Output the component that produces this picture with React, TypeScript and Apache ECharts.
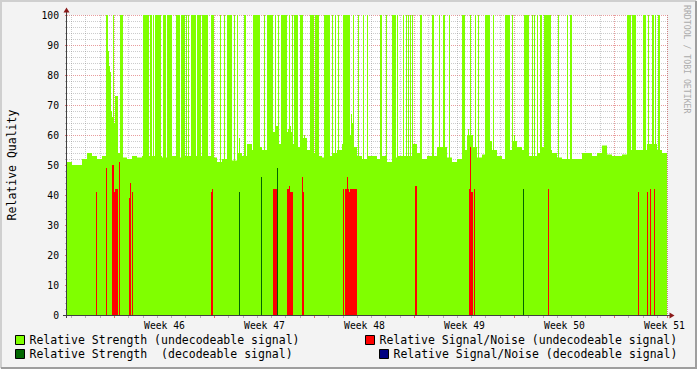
import React, { useEffect, useRef } from "react";
import * as echarts from "echarts";

// ---------- data (one sample per time step, 600 samples over ~6 weeks) ----------
const sampleCount = 600;
const weekLabels = ["Week 46", "Week 47", "Week 48", "Week 49", "Week 50", "Week 51"];
const weekLabelSamples = [97, 197, 297, 397, 497, 597];
const firstWeekStartSample = 47;
const samplesPerWeek = 100;

const NAME_STRENGTH_U = "Relative Strength (undecodeable signal)";
const NAME_SNR_U = "Relative Signal/Noise (undecodeable signal)";
const NAME_STRENGTH_D = "Relative Strength  (decodeable signal)";
const NAME_SNR_D = "Relative Signal/Noise (decodeable signal)";

// baseline strength, one value per block of 5 samples
const strengthBlockSize = 5;
const strengthBase = [
  51, 50, 50, 52, 54, 53, 52, 53, 54, 55,
  54, 52.5, 52, 53, 52.5, 53, 53, 53, 53, 52.5,
  53, 53, 52.5, 53, 53, 53, 53, 53, 53, 52.5,
  51, 52, 53, 51.5, 54, 53, 57, 55, 56, 55,
  57, 61, 57, 56, 61, 57, 56, 59, 55, 54,
  53, 52.5, 53, 54, 55, 57, 60, 56, 53, 52,
  53, 53, 52, 53, 51, 52.5, 53, 53, 53, 57,
  54, 52, 53, 53, 56, 56, 52.5, 51, 52, 55,
  60, 56, 52.5, 53.5, 58, 55, 53, 52, 55, 58,
  56, 55, 53, 53, 54, 56, 55, 54, 52.5, 52,
  52, 52, 52, 54, 54, 53, 54, 56.5, 53.5, 53,
  53, 53.5, 55, 55, 55, 55, 57, 57, 55, 54,
];

// sample ranges (inclusive) where strength reaches 100
const strengthFullRanges: [number, number][] = [
  [39, 40], [46, 46], [53, 55], [76, 81], [83, 84], [86, 86], [88, 93], [96, 98],
  [100, 104], [109, 112], [114, 117], [119, 119], [121, 121], [124, 128], [130, 133],
  [135, 140], [144, 146], [153, 153], [157, 157], [160, 164], [167, 167], [170, 170],
  [177, 178], [186, 192], [197, 197], [200, 205], [208, 208], [211, 211], [214, 219],
  [222, 222], [225, 225], [227, 230], [233, 235], [243, 246], [248, 251], [257, 262],
  [265, 265], [268, 268], [271, 271], [276, 282], [286, 286], [291, 291], [296, 296],
  [300, 300], [313, 314], [319, 319], [325, 328], [330, 330], [336, 336], [339, 339],
  [341, 341], [343, 343], [345, 345], [353, 354], [365, 366], [372, 372], [376, 377],
  [382, 382], [395, 397], [403, 403], [408, 408], [411, 411], [418, 422], [426, 426],
  [438, 442], [445, 445], [457, 461], [465, 465], [467, 467], [470, 470], [473, 474],
  [477, 483], [491, 491], [500, 500], [503, 504], [560, 563], [565, 568], [576, 578],
  [581, 581], [585, 586], [588, 588], [591, 592],
];

// individual samples with intermediate strength peaks [sample, value]
const strengthPeaks: [number, number][] = [
  [41, 88], [42, 83], [43, 81], [44, 68], [45, 66], [47, 64], [48, 73], [49, 73], [50, 73],
  [172, 59], [209, 63], [210, 63], [221, 62], [223, 63], [237, 60], [284, 67], [285, 64],
  [401, 62], [405, 60], [447, 60],
];

// relative strength, decodeable signal [sample, value]
const strengthDecodeable: [number, number][] = [
  [172, 41], [194, 46], [210, 49], [456, 42],
];

// relative signal/noise, undecodeable signal [sample, value]
const snrUndecodeable: [number, number][] = [
  [29, 41], [39, 49], [45, 50], [46, 50], [47, 41], [48, 42], [49, 42], [50, 42], [52, 51],
  [62, 39], [63, 44], [65, 41], [144, 41], [145, 42],
  [206, 42], [207, 42], [208, 42], [209, 42],
  [220, 42], [221, 42], [222, 43], [223, 41], [224, 41], [225, 41],
  [235, 46], [236, 41], [276, 42],
  [278, 42], [279, 42], [280, 46], [281, 42], [282, 41], [283, 42], [284, 42], [285, 42],
  [286, 42], [287, 42], [288, 42], [289, 42],
  [348, 43], [349, 43], [402, 42], [403, 56], [404, 41], [405, 41], [407, 42],
  [481, 42], [571, 41], [580, 41], [583, 42], [587, 42],
];

// relative signal/noise, decodeable signal [sample, value]
const snrDecodeable: [number, number][] = [];

// ---------- build series arrays ----------
function buildStrength(): (number | null)[] {
  const arr: (number | null)[] = [];
  for (let i = 0; i < sampleCount; i++) arr.push(strengthBase[Math.floor(i / strengthBlockSize)]);
  for (const [a, b] of strengthFullRanges) for (let i = a; i <= b; i++) arr[i] = 100;
  for (const [i, v] of strengthPeaks) arr[i] = v;
  return arr;
}
function sparse(points: [number, number][]): (number | null)[] {
  const arr: (number | null)[] = new Array(sampleCount).fill(null);
  for (const [i, v] of points) arr[i] = v;
  return arr;
}

const categories = Array.from({ length: sampleCount }, (_, i) => String(i));
const weekTickSet = new Set<number>();
const dayTickSet = new Set<number>();
for (let k = -2; k <= 8; k++) {
  const w = firstWeekStartSample + k * samplesPerWeek;
  if (w > 0 && w < sampleCount) weekTickSet.add(w);
}
for (let k = -7; k <= 50; k++) {
  const d = Math.round(firstWeekStartSample + (k * samplesPerWeek) / 7);
  if (d > 0 && d < sampleCount) dayTickSet.add(d);
}

const FONT = "DejaVu Sans Mono";
const MINOR_GRID = "rgba(128,128,128,0.4)";
const MAJOR_GRID = "rgba(210,60,60,0.5)";
const ARROW = "#8b1a1a";
const AXIS = "#404040";

export default function App() {
  const ref = useRef<HTMLDivElement>(null);
  useEffect(() => {
    document.body.style.margin = "0";
    const chart = echarts.init(ref.current!, undefined, { renderer: "svg" });
    const barBase = {
      type: "bar" as const,
      barWidth: "100%",
      barGap: "-100%",
      barCategoryGap: 0,
      xAxisIndex: 0,
      yAxisIndex: 0,
      silent: true,
      z: 3,
    };
    const legendBase = {
      padding: 0,
      itemWidth: 9,
      itemHeight: 9,
      icon: "rect",
      selectedMode: false,
      itemStyle: { borderColor: "#000", borderWidth: 1 },
      textStyle: { fontFamily: FONT, fontSize: 11.5, color: "#000" },
    };
    chart.setOption({
      animation: false,
      backgroundColor: "#f3f3f3",
      grid: {
        left: 67, top: 15, width: 600, height: 300,
        show: true, backgroundColor: "#ffffff", borderWidth: 0,
      },
      xAxis: [
        {
          type: "category", data: categories, boundaryGap: true, z: 1,
          axisLine: { show: false },
          axisTick: {
            show: true, length: 3,
            interval: (i: number) => dayTickSet.has(i) && !weekTickSet.has(i),
            lineStyle: { color: "#b4b4b4" },
          },
          axisLabel: {
            interval: (i: number) => weekLabelSamples.includes(i),
            formatter: (_v: string, i: number) => {
              const k = weekLabelSamples.indexOf(i);
              return k >= 0 ? weekLabels[k] : "";
            },
            margin: 5, fontFamily: FONT, fontSize: 9.7, color: "#000",
          },
          splitLine: {
            show: true,
            interval: (i: number) => dayTickSet.has(i) && !weekTickSet.has(i),
            lineStyle: { color: MINOR_GRID, type: [1, 1], width: 1 },
          },
        },
        {
          type: "category", data: categories, boundaryGap: true, position: "bottom", z: 1,
          axisLine: { show: false },
          axisLabel: { show: false },
          axisTick: {
            show: true, length: 3,
            interval: (i: number) => weekTickSet.has(i),
            lineStyle: { color: "#e07070" },
          },
          splitLine: {
            show: true,
            interval: (i: number) => weekTickSet.has(i),
            lineStyle: { color: MAJOR_GRID, type: [1, 1], width: 1 },
          },
        },
      ],
      yAxis: {
        type: "value", min: 0, max: 100, interval: 10, z: 1,
        axisLine: { show: false },
        axisTick: { show: true, length: 2, lineStyle: { color: "#e07070" } },
        minorTick: { show: true, splitNumber: 5, length: 2, lineStyle: { color: "#b4b4b4" } },
        axisLabel: { margin: 8, fontFamily: FONT, fontSize: 9.7, color: "#000" },
        splitLine: { show: true, lineStyle: { color: MAJOR_GRID, type: [1, 1], width: 1 } },
        minorSplitLine: { show: true, lineStyle: { color: MINOR_GRID, type: [1, 1], width: 1 } },
      },
      legend: [
        { ...legendBase, data: [NAME_STRENGTH_U], left: 15, top: 334 },
        { ...legendBase, data: [NAME_SNR_U], left: 365, top: 334 },
        { ...legendBase, data: [NAME_STRENGTH_D], left: 15, top: 348 },
        { ...legendBase, data: [NAME_SNR_D], left: 379, top: 348 },
      ],
      series: [
        { ...barBase, name: NAME_STRENGTH_U, data: buildStrength(), itemStyle: { color: "#80ff00" } },
        { ...barBase, name: NAME_STRENGTH_D, data: sparse(strengthDecodeable), itemStyle: { color: "#006600" } },
        { ...barBase, name: NAME_SNR_U, data: sparse(snrUndecodeable), itemStyle: { color: "#ff0000" } },
        { ...barBase, name: NAME_SNR_D, data: sparse(snrDecodeable), itemStyle: { color: "#000080" } },
      ],
      graphic: [
        // frame shading
        { type: "polyline", silent: true, shape: { points: [[1, 368], [1, 1], [696, 1]] }, style: { stroke: "#cfcfcf", lineWidth: 2, fill: null } },
        { type: "polyline", silent: true, shape: { points: [[1, 368], [696, 368], [696, 1]] }, style: { stroke: "#9e9e9e", lineWidth: 2, fill: null } },
        // axis lines and arrows (drawn on top of the data)
        { type: "line", silent: true, z: 20, shape: { x1: 66.5, y1: 11, x2: 66.5, y2: 318 }, style: { stroke: AXIS, lineWidth: 1 } },
        { type: "line", silent: true, z: 20, shape: { x1: 63, y1: 315.5, x2: 670, y2: 315.5 }, style: { stroke: AXIS, lineWidth: 1 } },
        { type: "polygon", silent: true, z: 20, shape: { points: [[63.5, 12.5], [69.5, 12.5], [66.5, 7.5]] }, style: { fill: ARROW } },
        { type: "polygon", silent: true, z: 20, shape: { points: [[669.5, 312.5], [669.5, 318.5], [674.5, 315.5]] }, style: { fill: ARROW } },
        // y axis title
        {
          type: "text", silent: true, x: 12, y: 165, rotation: Math.PI / 2,
          style: { text: "Relative Quality", fontFamily: FONT, fontSize: 11.5, fill: "#000", align: "center", verticalAlign: "middle" },
        },
        // watermark
        {
          type: "text", silent: true, x: 687, y: 5, rotation: -Math.PI / 2,
          style: { text: "RRDTOOL / TOBI OETIKER", fontFamily: FONT, fontSize: 8.2, fill: "#ababab", align: "left", verticalAlign: "middle" },
        },
      ],
    });
    return () => chart.dispose();
  }, []);
  return <div ref={ref} style={{ width: 697, height: 369 }} />;
}
